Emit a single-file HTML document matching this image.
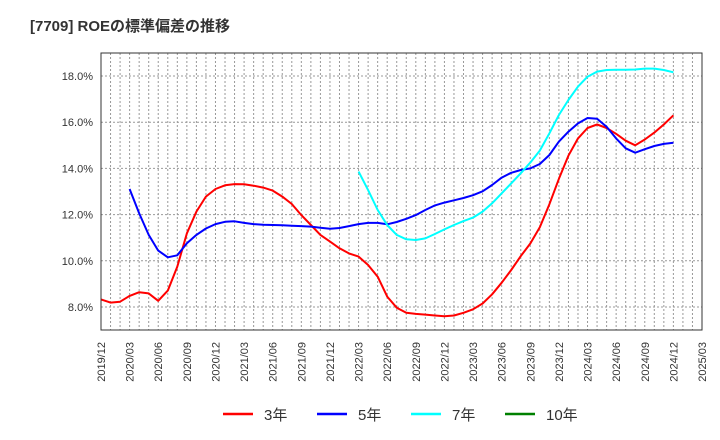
<!DOCTYPE html>
<html><head><meta charset="utf-8"><style>
body{margin:0;background:#fff;}
svg{display:block;font-family:"Liberation Sans","Noto Sans CJK JP",sans-serif;}
</style></head><body>
<svg id="c" width="720" height="440">
<text x="30" y="31" font-size="15" font-weight="bold" fill="#333">[7709]  ROEの標準偏差の推移</text>
<g id="grid"></g><g id="series"></g><g id="axes"></g>
<g font-size="15" fill="#333">
<line x1="223" y1="414" x2="253" y2="414" stroke="#ff0000" stroke-width="2.5"/>
<text x="264" y="420">3年</text>
<line x1="317" y1="414" x2="347" y2="414" stroke="#0000ff" stroke-width="2.5"/>
<text x="358" y="420">5年</text>
<line x1="411" y1="414" x2="441" y2="414" stroke="#00ffff" stroke-width="2.5"/>
<text x="452" y="420">7年</text>
<line x1="505" y1="414" x2="535" y2="414" stroke="#008000" stroke-width="2.5"/>
<text x="546" y="420">10年</text>
</g>
</svg>
<script>
const xLabels=["2019/12","2020/03","2020/06","2020/09","2020/12","2021/03","2021/06","2021/09","2021/12","2022/03","2022/06","2022/09","2022/12","2023/03","2023/06","2023/09","2023/12","2024/03","2024/06","2024/09","2024/12","2025/03"];
const yTicks=[8,10,12,14,16,18];
// monthly values starting 2019/12 (index 0)
const red=[8.33,8.19,8.23,8.48,8.64,8.59,8.27,8.71,9.75,11.19,12.13,12.78,13.11,13.27,13.32,13.31,13.25,13.17,13.04,12.78,12.46,11.98,11.55,11.12,10.83,10.54,10.32,10.18,9.82,9.31,8.45,7.97,7.75,7.7,7.67,7.63,7.6,7.63,7.75,7.9,8.15,8.55,9.05,9.6,10.2,10.75,11.45,12.45,13.55,14.55,15.3,15.75,15.9,15.75,15.5,15.2,15.0,15.25,15.55,15.9,16.3];
const blueStart=3;
const blue=[13.11,12.05,11.12,10.44,10.15,10.24,10.76,11.12,11.4,11.59,11.69,11.71,11.64,11.59,11.56,11.55,11.54,11.52,11.5,11.48,11.43,11.39,11.42,11.5,11.59,11.64,11.64,11.58,11.68,11.82,11.98,12.2,12.4,12.52,12.62,12.72,12.84,13.01,13.28,13.6,13.81,13.93,14.0,14.19,14.58,15.16,15.59,15.95,16.18,16.15,15.8,15.3,14.87,14.68,14.83,14.97,15.06,15.11];
const cyanStart=27;
const cyan=[13.86,13.06,12.2,11.55,11.12,10.93,10.9,10.97,11.16,11.36,11.55,11.72,11.87,12.13,12.49,12.92,13.35,13.79,14.25,14.77,15.52,16.31,16.96,17.54,17.97,18.19,18.26,18.27,18.27,18.28,18.32,18.32,18.26,18.16];
const green=[];

const L=101,R=702,T=53,B=330,NM=63;
const X=i=>L+(R-L)*i/NM;
const Y=v=>307-(v-8)*(231/10);
const NS="http://www.w3.org/2000/svg";
function mk(tag,attrs,parent){const e=document.createElementNS(NS,tag);for(const k in attrs)e.setAttribute(k,attrs[k]);parent.appendChild(e);return e;}
const grid=document.getElementById('grid'),ax=document.getElementById('axes'),ser=document.getElementById('series');
for(let m=1;m<NM;m++){
  const l=mk('line',{x1:X(m),x2:X(m),y1:T,y2:B,stroke:'#999','stroke-dasharray':'2,2','stroke-width':1},grid);
  
  
}
yTicks.forEach(v=>{
  const l=mk('line',{x1:L,x2:R,y1:Y(v),y2:Y(v),stroke:'#999','stroke-dasharray':'2,2','stroke-width':1},grid);
  
  
  const t=mk('text',{x:93,y:Y(v)+4,'text-anchor':'end','font-size':11,fill:'#333'},ax);
  t.textContent=v.toFixed(1)+'%';
  
  
});
const frame=mk('rect',{x:L,y:T,width:R-L,height:B-T,fill:'none',stroke:'#333','stroke-width':1},ax);


xLabels.forEach((s,k)=>{
  const x=X(k*3)+4;
  const t=mk('text',{x:x,y:342,transform:`rotate(-90 ${x} 342)`,'text-anchor':'end','font-size':11,fill:'#333'},ax);
  t.textContent=s;
  
  
});
function line(arr,start,color,name){
  if(!arr.length)return;
  const d=arr.map((v,i)=>(i?'L':'M')+X(start+i).toFixed(1)+','+Y(v).toFixed(1)).join('');
  const p=mk('path',{d:d,fill:'none',stroke:color,'stroke-width':2,'stroke-linejoin':'round'},ser);
  
  
}
line(red,0,'#ff0000','series-3y');
line(blue,blueStart,'#0000ff','series-5y');
line(cyan,cyanStart,'#00ffff','series-7y');
line(green,0,'#008000','series-10y');
</script>
</body></html>
